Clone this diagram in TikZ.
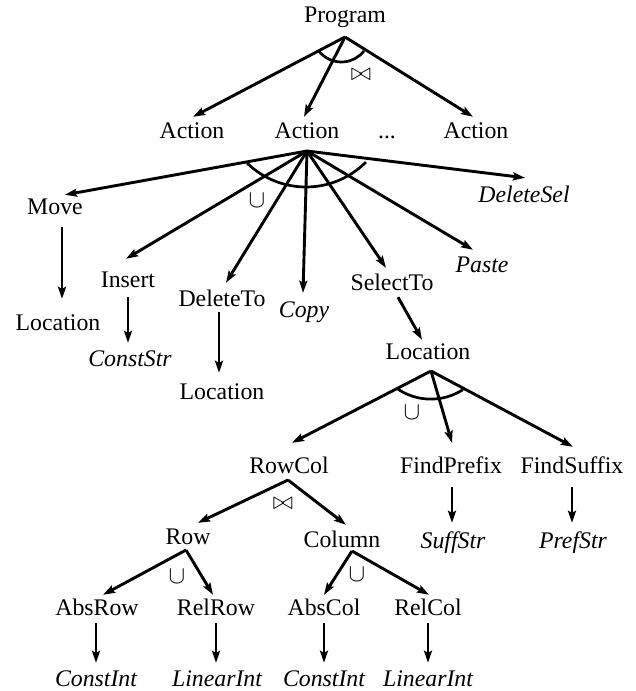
\documentclass[tikz,border=0pt]{standalone}
\usepackage{fontspec}
\setmainfont{Liberation Serif}
\usetikzlibrary{arrows.meta,calc}
\begin{document}
\begin{tikzpicture}[x=1pt,y=-1pt,
  lbl/.style={anchor=base,inner sep=0pt,text height=16pt,text depth=5pt,font=\fontsize{23.8}{28}\selectfont},
  ilbl/.style={lbl,font=\fontsize{23.8}{28}\selectfont\itshape},
  arr/.style={line width=2.9pt,-{Stealth[length=12pt,width=8pt,inset=2pt]}},
  fan/.style={line width=2.7pt},
  bsym/.style={inner sep=0pt,font=\fontsize{28}{32}\selectfont},
  csym/.style={inner sep=0pt,font=\fontsize{26}{30}\selectfont}]
\path[use as bounding box] (0,0) rectangle (635,691);

% labels
\node[lbl] (prog) at (345,22) {Program};
\node[lbl] (a1) at (192,138) {Action};
\node[lbl] (a2) at (307,138) {Action};
\node[lbl] (dots) at (387,138) {...};
\node[lbl] (a3) at (476,138) {Action};
\node[lbl] (move) at (55,214) {Move};
\node[lbl] (loc1) at (58,330) {Location};
\node[lbl] (ins) at (128,287) {Insert};
\node[ilbl] (cstr) at (130,366) {ConstStr};
\node[lbl] (delto) at (222,306) {DeleteTo};
\node[lbl] (loc2) at (222,399) {Location};
\node[ilbl] (copy) at (304,317) {Copy};
\node[lbl] (selto) at (392,290) {SelectTo};
\node[ilbl] (paste) at (482,272) {Paste};
\node[ilbl] (delsel) at (524,202) {DeleteSel};
\node[lbl] (loc3) at (428,359) {Location};
\node[lbl] (rowcol) at (289,473) {RowCol};
\node[lbl] (fpre) at (451,473) {FindPrefix};
\node[lbl] (fsuf) at (572,473) {FindSuffix};
\node[lbl] (row) at (188,544) {Row};
\node[lbl] (col) at (342,547) {Column};
\node[ilbl] (sstr) at (453,548) {SuffStr};
\node[ilbl] (pstr) at (573,548) {PrefStr};
\node[lbl] (absrow) at (97,615) {AbsRow};
\node[lbl] (relrow) at (216,615) {RelRow};
\node[lbl] (abscol) at (324,615) {AbsCol};
\node[lbl] (relcol) at (428,615) {RelCol};
\node[ilbl] (ci1) at (96,686) {ConstInt};
\node[ilbl] (li1) at (217,686) {LinearInt};
\node[ilbl] (ci2) at (324,686) {ConstInt};
\node[ilbl] (li2) at (428,686) {LinearInt};

% symbols
\node[bsym] (bt1) at (361,75) {$\bowtie$};
\node[csym] (cu1) at (257,201) {$\cup$};
\node[csym] (cu2) at (412,413) {$\cup$};
\node[bsym] (bt2) at (283,504) {$\bowtie$};
\node[csym] (cu3) at (177,577) {$\cup$};
\node[csym] (cu4) at (357,575) {$\cup$};

% apexes
\coordinate (pP) at (345,37);
\coordinate (pA) at (307,151);
\coordinate (pL) at (431,371);
\coordinate (pR) at (288,480);
\coordinate (pRow) at (186,550);
\coordinate (pCol) at (352,551);

% arc centres
\coordinate (c1) at (341.4,33.3);
\coordinate (c2) at (306,102.5);
\coordinate (c3) at (430.8,339.6);

% fans from Program
\draw[arr] (pP) -- ($(a1.north)+(1,-5)$);
\draw[arr] (pP) -- ($(a2.north)+(-3,-5)$);
\draw[arr] (pP) -- ($(a3.north)+(-3,-5)$);
\draw[fan] (c1) ++(215.5:28.7pt) arc[start angle=215.5,end angle=322,radius=28.7pt];

% fans from Action
\draw[arr] (pA) -- ($(move.north)+(10,-3)$);
\draw[arr] (pA) -- ($(ins.north)+(-2,-12)$);
\draw[arr] (pA) -- ($(delto.north)+(4,-7)$);
\draw[arr] (pA) -- ($(copy.north)+(-1,-8)$);
\draw[arr] (pA) -- ($(selto.north)+(-6,-6)$);
\draw[arr] (pA) -- ($(paste.north)+(-9,-6)$);
\draw[arr] (pA) -- ($(delsel.north)+(1,-8)$);
\draw[fan] (c2) ++(225.7:84.5pt) arc[start angle=225.7,end angle=315.2,radius=84.5pt];

% vertical children
\draw[arr] ($(move.south)+(7,8)$) -- ($(loc1.north)+(4,-15)$);
\draw[arr] ($(ins.south)+(0,5)$) -- ($(cstr.north)+(-2,-7)$);
\draw[arr] ($(delto.south)+(-3,1)$) -- ($(loc2.north)+(-3,-10)$);
\draw[arr] ($(selto.south)+(6,2)$) -- ($(loc3.north)+(-6,-3)$);

% Location fan
\draw[arr] (pL) -- ($(rowcol.north)+(3,-14)$);
\draw[arr] (pL) -- ($(fpre.north)+(1,-14)$);
\draw[arr] (pL) -- ($(fsuf.north)+(1,-10)$);
\draw[fan] (c3) ++(235.6:59.5pt) arc[start angle=235.6,end angle=302.6,radius=59.5pt];

\draw[arr] ($(fpre.south)+(1,9)$) -- ($(sstr.north)+(-1,-9)$);
\draw[arr] ($(fsuf.south)+(0,9)$) -- ($(pstr.north)+(-1,-9)$);

% RowCol
\draw[arr] (pR) -- ($(row.north)+(10,-5)$);
\draw[arr] (pR) -- ($(col.north)+(4,-6)$);

\draw[arr] (pRow) -- ($(absrow.north)+(6,-4)$);
\draw[arr] (pRow) -- ($(relrow.north)+(-3,-4)$);
\draw[arr] (pCol) -- ($(abscol.north)+(0,-4)$);
\draw[arr] (pCol) -- ($(relcol.north)+(1,-4)$);

\draw[arr] ($(absrow.south)+(-1,3)$) -- ($(ci1.north)+(0,-7)$);
\draw[arr] ($(relrow.south)+(0,3)$) -- ($(li1.north)+(-1,-7)$);
\draw[arr] ($(abscol.south)+(0,3)$) -- ($(ci2.north)+(0,-7)$);
\draw[arr] ($(relcol.south)+(0,3)$) -- ($(li2.north)+(0,-7)$);
\end{tikzpicture}
\end{document}
